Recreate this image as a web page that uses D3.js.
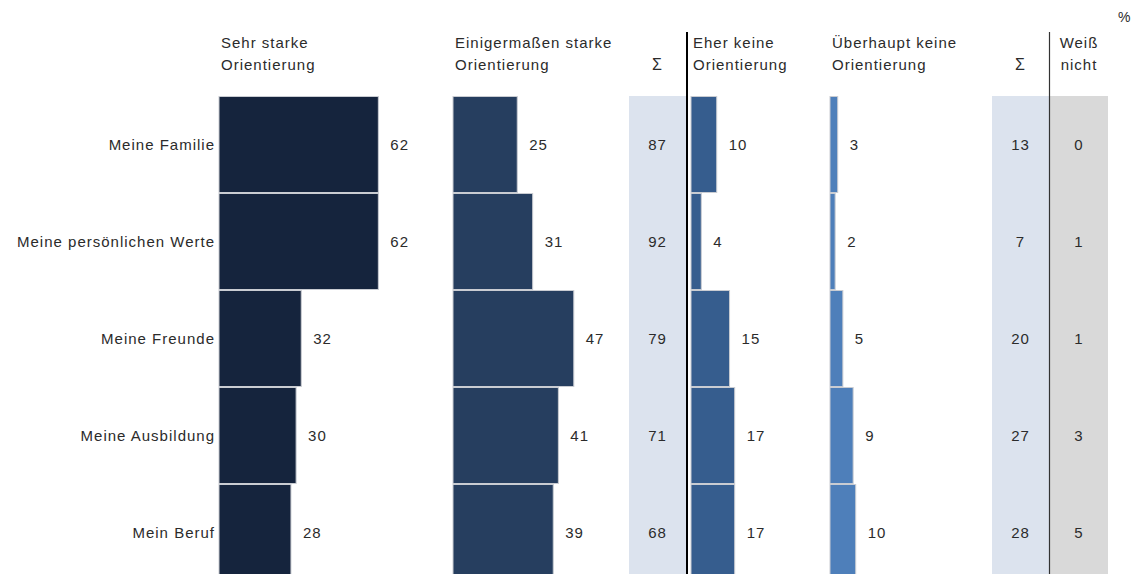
<!DOCTYPE html>
<html>
<head>
<meta charset="utf-8">
<script src="https://cdn.jsdelivr.net/npm/d3@7"></script>
<style>
  html, body { margin: 0; padding: 0; background: #fff; }
  svg { display: block; font-family: "Liberation Sans", Arial, sans-serif; letter-spacing: 1px; }
</style>
</head>
<body>
<svg id="chart" width="1135" height="574"></svg>
<script>
// Orientation sources, shares in percent
const categories = ["Meine Familie", "Meine persönlichen Werte", "Meine Freunde", "Meine Ausbildung", "Mein Beruf"];
const sehrStark = [62, 62, 32, 30, 28];
const einigermassen = [25, 31, 47, 41, 39];
const summePositiv = [87, 92, 79, 71, 68];
const eherKeine = [10, 4, 15, 17, 17];
const ueberhauptKeine = [3, 2, 5, 9, 10];
const summeNegativ = [13, 7, 20, 27, 28];
const weissNicht = [0, 1, 1, 3, 5];

const svg = d3.select("#chart");
const W = 1135, H = 574;

const rowTop = 96, rowH = 97;
const y = d3.scaleBand()
  .domain(categories)
  .range([rowTop, rowTop + rowH * categories.length])
  .paddingInner(0).paddingOuter(0);

// one shared value scale (px per percentage point)
const len = d3.scaleLinear().domain([0, 100]).range([0, 257]);

const textColor = "#2b2b2b";
const fontSize = 15;

// bar columns
const barCols = [
  { x0: 219, values: sehrStark, color: "#15243d", head: ["Sehr starke", "Orientierung"] },
  { x0: 453, values: einigermassen, color: "#263e5f", head: ["Einigermaßen starke", "Orientierung"] },
  { x0: 691, values: eherKeine, color: "#365d8e", head: ["Eher keine", "Orientierung"] },
  { x0: 830, values: ueberhauptKeine, color: "#4e7fba", head: ["Überhaupt keine", "Orientierung"] }
];

// shaded sum / don't-know bands
const bands = [
  { x0: 629, x1: 686, values: summePositiv, fill: "#dce3ee", head: ["", "Σ"] },
  { x0: 992, x1: 1049, values: summeNegativ, fill: "#dce3ee", head: ["", "Σ"] },
  { x0: 1050, x1: 1108, values: weissNicht, fill: "#d9d9d9", head: ["Weiß", "nicht"] }
];

bands.forEach(b => {
  svg.append("rect")
    .attr("x", b.x0).attr("y", rowTop)
    .attr("width", b.x1 - b.x0).attr("height", H - rowTop)
    .attr("fill", b.fill);
  svg.append("g").selectAll("text")
    .data(categories)
    .join("text")
    .attr("x", (b.x0 + b.x1) / 2)
    .attr("y", d => y(d) + y.bandwidth() / 2)
    .attr("dy", "0.35em")
    .attr("text-anchor", "middle")
    .attr("font-size", fontSize)
    .attr("fill", textColor)
    .text((d, i) => b.values[i]);
  b.head.forEach((t, k) => {
    if (!t) return;
    svg.append("text")
      .attr("x", (b.x0 + b.x1) / 2)
      .attr("y", 48 + k * 22)
      .attr("text-anchor", "middle")
      .attr("font-size", t === "Σ" ? 16 : fontSize)
      .attr("fill", textColor)
      .text(t);
  });
});

barCols.forEach(c => {
  const g = svg.append("g");
  g.selectAll("rect")
    .data(categories)
    .join("rect")
    .attr("x", c.x0)
    .attr("y", d => y(d) + 0.5)
    .attr("width", (d, i) => len(c.values[i]))
    .attr("height", y.bandwidth() - 1)
    .attr("fill", c.color)
    .attr("stroke", "#c9ccd2")
    .attr("stroke-width", 1);
  g.selectAll("text")
    .data(categories)
    .join("text")
    .attr("x", (d, i) => c.x0 + len(c.values[i]) + 12)
    .attr("y", d => y(d) + y.bandwidth() / 2)
    .attr("dy", "0.35em")
    .attr("font-size", fontSize)
    .attr("fill", textColor)
    .text((d, i) => c.values[i]);
  c.head.forEach((t, k) => {
    svg.append("text")
      .attr("x", c.x0 + 2)
      .attr("y", 48 + k * 22)
      .attr("font-size", fontSize)
      .attr("fill", textColor)
      .text(t);
  });
});

// row labels
svg.append("g").selectAll("text")
  .data(categories)
  .join("text")
  .attr("x", 215)
  .attr("y", d => y(d) + y.bandwidth() / 2)
  .attr("dy", "0.35em")
  .attr("text-anchor", "end")
  .attr("font-size", fontSize)
  .attr("fill", textColor)
  .text(d => d);

// divider lines between positive, negative and don't-know blocks
svg.append("line")
  .attr("x1", 687).attr("x2", 687)
  .attr("y1", 32).attr("y2", H)
  .attr("stroke", "#000").attr("stroke-width", 2);
svg.append("line")
  .attr("x1", 1049.5).attr("x2", 1049.5)
  .attr("y1", 32).attr("y2", H)
  .attr("stroke", "#333").attr("stroke-width", 1.2);

// unit marker
svg.append("text")
  .attr("x", 1118).attr("y", 22)
  .attr("font-size", 14)
  .attr("fill", textColor)
  .text("%");
</script>
</body>
</html>
